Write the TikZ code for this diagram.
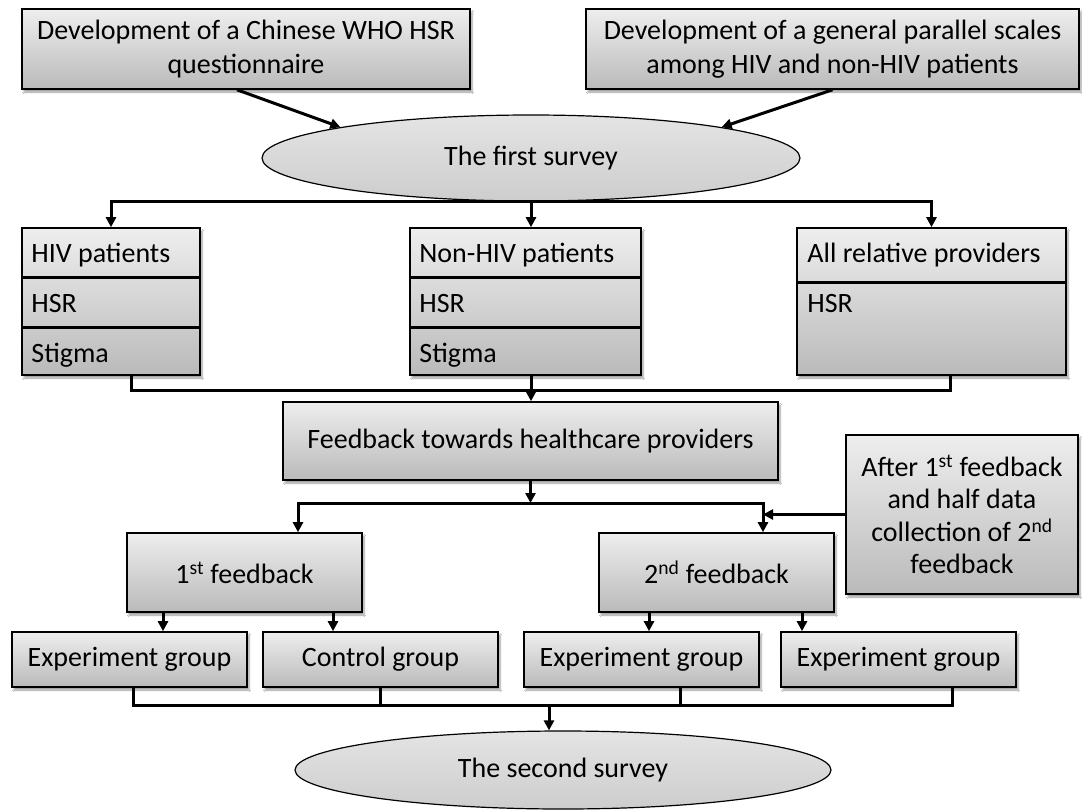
\documentclass[tikz,border=0pt]{standalone}
\usepackage{fontspec}
\setmainfont{Carlito}
\usetikzlibrary{shapes.geometric,shadows.blur,arrows.meta,calc}
\newcommand{\figfont}{\fontsize{28}{34}\selectfont}
\definecolor{boxtop}{HTML}{EEEEEE}
\definecolor{boxbot}{HTML}{BABABA}
\definecolor{elltop}{HTML}{E4E4E4}
\definecolor{ellbot}{HTML}{CDCDCD}
\begin{document}
\begin{tikzpicture}[x=1pt,y=-1pt,
  box/.style={draw=black, line width=1.6pt, top color=boxtop, bottom color=boxbot,
    blur shadow={shadow xshift=2pt,shadow yshift=-3pt,shadow blur steps=6,shadow opacity=40},
    inner sep=0pt, align=center, font=\figfont},
  oval/.style={ellipse, draw=black, line width=1.2pt, top color=elltop, bottom color=ellbot,
    inner sep=0pt, font=\figfont},
  conn/.style={line width=3pt},
  arr/.style={line width=3pt, -{Triangle[length=10pt,width=10pt]}},
  div/.style={line width=2.6pt},
  lbl/.style={anchor=base west, inner sep=0pt, font=\figfont},
]
\useasboundingbox (0,0) rectangle (1082,809);
\fill[white] (0,0) rectangle (1082,809);

% top boxes
\node[box, minimum width=448pt, minimum height=80pt] (top1) at (246,49)
  {Development of a Chinese WHO HSR\\questionnaire};
\node[box, minimum width=493pt, minimum height=80pt] (top2) at (832.5,49)
  {Development of a general parallel scales\\among HIV and non-HIV patients};
\node[oval, minimum width=538pt, minimum height=86pt] (ell1) at (531,158) {The first survey};

\draw[arr] ([xshift=-9pt]top1.south) -- (ell1.north west);
\draw[arr] (top2.south) -- (ell1.north east);

% three compartment boxes
\node[box, minimum width=178pt, minimum height=147pt] (hiv) at (111,301.5) {};
\node[box, minimum width=231pt, minimum height=147pt] (nonhiv) at (525.5,301.5) {};
\node[box, minimum width=269pt, minimum height=147pt] (prov) at (931.5,301.5) {};

\draw[div] ([yshift=-50pt]hiv.north west) -- ([yshift=-50pt]hiv.north east);
\draw[div] ([yshift=-100pt]hiv.north west) -- ([yshift=-100pt]hiv.north east);
\draw[div] ([yshift=-50pt]nonhiv.north west) -- ([yshift=-50pt]nonhiv.north east);
\draw[div] ([yshift=-100pt]nonhiv.north west) -- ([yshift=-100pt]nonhiv.north east);
\draw[div] ([yshift=-55pt]prov.north west) -- ([yshift=-55pt]prov.north east);

\node[lbl] (hivA) at ([xshift=10pt,yshift=-35pt]hiv.north west) {HIV patients};
\node[lbl] (hivB) at ([xshift=10pt,yshift=-85pt]hiv.north west) {HSR};
\node[lbl] (hivC) at ([xshift=10pt,yshift=-135pt]hiv.north west) {Stigma};
\node[lbl] (nonA) at ([xshift=10pt,yshift=-35pt]nonhiv.north west) {Non-HIV patients};
\node[lbl] (nonB) at ([xshift=10pt,yshift=-85pt]nonhiv.north west) {HSR};
\node[lbl] (nonC) at ([xshift=10pt,yshift=-135pt]nonhiv.north west) {Stigma};
\node[lbl] (provA) at ([xshift=11pt,yshift=-35pt]prov.north west) {All relative providers};
\node[lbl] (provB) at ([xshift=11pt,yshift=-85pt]prov.north west) {HSR};

\draw[arr] (ell1.south) -| (hiv.north);
\draw[arr] (ell1.south) -| (prov.north);
\draw[arr] (ell1.south) -- (ell1.south |- nonhiv.north);

% feedback box
\node[box, minimum width=495pt, minimum height=78pt] (fb) at (530.5,441)
  {Feedback towards healthcare providers};

\coordinate (j1) at (531,390);
\draw[conn] ([xshift=20pt]hiv.south) |- (j1);
\draw[conn] ([xshift=19pt]prov.south) |- (j1);
\draw[arr] (nonhiv.south -| j1) -- (fb.north -| j1);

% feedback split
\node[box, minimum width=235pt, minimum height=79pt] (fb1) at (244.5,572.5) {1\textsuperscript{st} feedback};
\node[box, minimum width=235pt, minimum height=79pt] (fb2) at (716.5,572.5) {2\textsuperscript{nd} feedback};
\node[box, minimum width=232pt, minimum height=159pt, font=\fontsize{28}{32.5}\selectfont] (side) at (962,514.5)
  {After 1\textsuperscript{st} feedback\\and half data\\collection of 2\textsuperscript{nd}\\feedback};

\coordinate (s1) at (298,503);
\coordinate (s2) at (763,503);
\draw[arr] (fb.south) -- (fb.south |- s1);
\draw[arr] (s2) -- (s1) -- (s1 |- fb1.north);
\draw[arr] (s1) -- (s2) -- (s2 |- fb2.north);
\draw[arr] (side.west) -- (side.west -| s2);

% groups
\node[box, minimum width=235pt, minimum height=55pt] (g1) at (129.5,659.5) {Experiment group};
\node[box, minimum width=235pt, minimum height=55pt] (g2) at (380.5,659.5) {Control group};
\node[box, minimum width=235pt, minimum height=55pt] (g3) at (641.5,659.5) {Experiment group};
\node[box, minimum width=235pt, minimum height=55pt] (g4) at (898.5,659.5) {Experiment group};

\coordinate (a1) at (163,0);
\coordinate (a2) at (333,0);
\coordinate (a3) at (649,0);
\coordinate (a4) at (802,0);
\draw[arr] (fb1.south -| a1) -- (g1.north -| a1);
\draw[arr] (fb1.south -| a2) -- (g2.north -| a2);
\draw[arr] (fb2.south -| a3) -- (g3.north -| a3);
\draw[arr] (fb2.south -| a4) -- (g4.north -| a4);

% second survey
\node[oval, minimum width=536pt, minimum height=78pt] (ell2) at (563,770) {The second survey};

\coordinate (d1) at (133,705);
\coordinate (d2) at (380.5,705);
\coordinate (d3) at (680,705);
\coordinate (d4) at (952,705);
\coordinate (j2) at (549,705);
\draw[conn] (g1.south -| d1) -- (d1) -- (d4) -- (g4.south -| d4);
\draw[conn] (g2.south -| d2) -- (d2);
\draw[conn] (g3.south -| d3) -- (d3);
\draw[arr] (j2) -- (j2 |- ell2.north);
\end{tikzpicture}
\end{document}
